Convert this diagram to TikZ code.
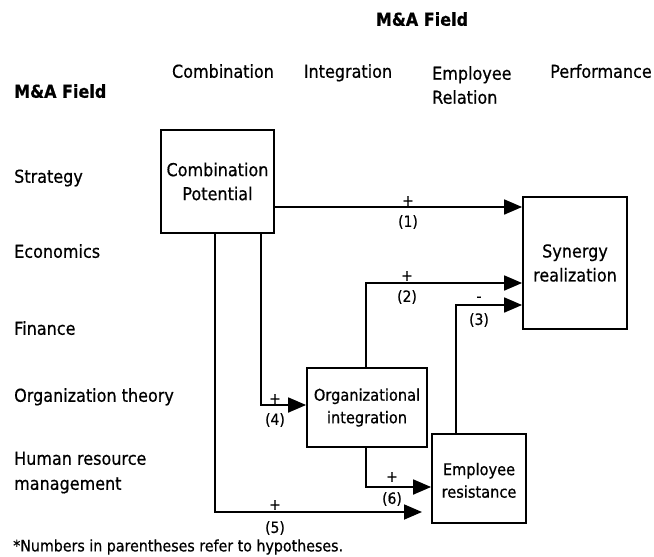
\documentclass[tikz,border=0pt]{standalone}
\usepackage{fontspec}
\setmainfont[FakeStretch=0.9,FakeBold=0.6]{DejaVu Sans}
\usetikzlibrary{arrows.meta,calc}
\begin{document}
\begin{tikzpicture}[x=1pt,y=-1pt,
  txt/.style={inner sep=0pt,text height=0.75em,text depth=0.2em,font=\fontsize{17.8}{21}\selectfont},
  hdr/.style={txt,font=\fontsize{17.8}{21}\selectfont\bfseries},
  box/.style={draw,line width=1.8pt,inner sep=2pt,align=center,font=\fontsize{17.8}{24}\selectfont},
  sbox/.style={box,font=\fontsize{16.2}{22.5}\selectfont},
  lbl/.style={inner sep=0pt,font=\fontsize{15.5}{18}\selectfont},
  arr/.style={line width=1.8pt,-{Triangle[length=18pt,width=15pt]}}]
\useasboundingbox (0,0) rectangle (654,557);
% headers
\node[hdr] (mafTop) at (422,23) {M\&A Field};
\node[txt] (hComb) at (223,75) {Combination};
\node[txt] (hInt) at (348,75) {Integration};
\node[txt,anchor=north west,align=left,font=\fontsize{17.8}{24}\selectfont,text height=,text depth=] (hEmp) at (432,66) {Employee\\Relation};
\node[txt] (hPerf) at (601,75) {Performance};
\node[hdr,anchor=west] (mafLeft) at (14,95) {M\&A Field};
% rows
\node[txt,anchor=west] (rStr) at (14,180) {Strategy};
\node[txt,anchor=west] (rEco) at (14,255) {Economics};
\node[txt,anchor=west] (rFin) at (14,332) {Finance};
\node[txt,anchor=west] (rOrg) at (14,399) {Organization theory};
\node[txt,anchor=west] (rHr1) at (14,462) {Human resource};
\node[txt,anchor=west] (rHr2) at (14,487) {management};
\node[lbl,anchor=west,font=\fontsize{15.8}{18}\selectfont] (foot) at (13,547) {*Numbers in parentheses refer to hypotheses.};
% boxes
\node[box,minimum width=113pt,minimum height=103pt] (cp) at (217.5,181.5) {Combination\\Potential};
\node[box,minimum width=104pt,minimum height=132pt] (sy) at (575,263) {Synergy\\realization};
\node[sbox,minimum width=120pt,minimum height=79pt] (oi) at (367,407.5) {Organizational\\integration};
\node[sbox,minimum width=94pt,minimum height=89pt] (er) at (479,478.5) {\rule{0pt}{16pt}Employee\\resistance};
% connectors
\draw[arr] (cp.east |- 0,207) -- (sy.west |- 0,207);
\draw[arr] (oi.north -| 366,0) |- (sy.west |- 0,283);
\draw[arr] (er.north -| 456,0) |- (sy.west |- 0,305);
\draw[arr] (cp.south -| 261,0) |- (oi.west |- 0,405);
\coordinate (e5) at (422,512);
\draw[arr] (cp.south -| 215,0) |- (e5);
\draw[arr] (oi.south -| 366,0) |- (er.west |- 0,487);
% labels
\node[lbl] (p1) at (408,201) {+};
\node[lbl] (n1) at (408,222) {(1)};
\node[lbl] (p2) at (407,276) {+};
\node[lbl] (n2) at (407,297) {(2)};
\node[lbl] (p3) at (479,299) {-};
\node[lbl] (n3) at (479,320) {(3)};
\node[lbl] (p4) at (275,399) {+};
\node[lbl] (n4) at (275,420) {(4)};
\node[lbl] (p5) at (275,505) {+};
\node[lbl] (n5) at (275,528) {(5)};
\node[lbl] (p6) at (392,477) {+};
\node[lbl] (n6) at (392,499) {(6)};
\end{tikzpicture}
\end{document}
